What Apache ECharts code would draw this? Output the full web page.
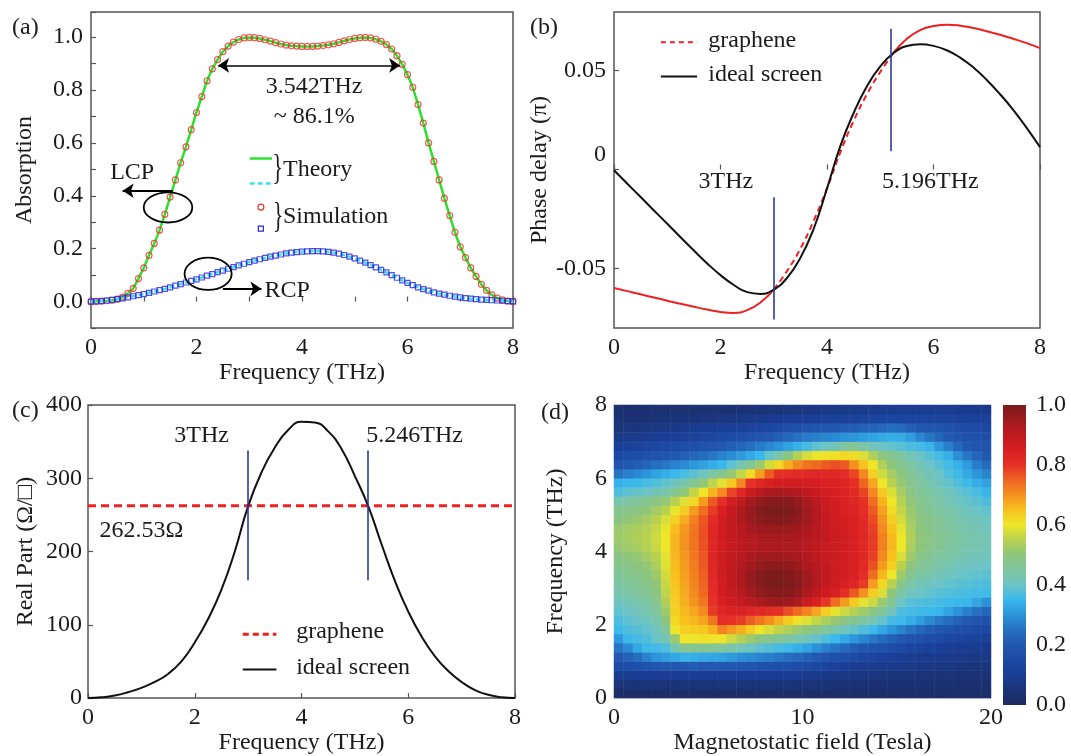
<!DOCTYPE html>
<html><head><meta charset="utf-8">
<script src="https://cdn.jsdelivr.net/npm/echarts@6/dist/echarts.min.js"></script>
<style>html,body{margin:0;padding:0;background:#fff}#c{width:1071px;height:756px}</style>
</head><body><div id="c"></div>
<script>
// ---------------- DATA ----------------
const freqA = [0,0.1,0.2,0.3,0.4,0.5,0.6,0.7,0.8,0.9,1,1.1,1.2,1.3,1.4,1.5,1.6,1.7,1.8,1.9,2,2.1,2.2,2.3,2.4,2.5,2.6,2.7,2.8,2.9,3,3.1,3.2,3.3,3.4,3.5,3.6,3.7,3.8,3.9,4,4.1,4.2,4.3,4.4,4.5,4.6,4.7,4.8,4.9,5,5.1,5.2,5.3,5.4,5.5,5.6,5.7,5.8,5.9,6,6.1,6.2,6.3,6.4,6.5,6.6,6.7,6.8,6.9,7,7.1,7.2,7.3,7.4,7.5,7.6,7.7,7.8,7.9,8];
const lcpA = [0.000,0.001,0.002,0.003,0.005,0.009,0.017,0.031,0.050,0.087,
0.127,0.175,0.220,0.270,0.330,0.395,0.460,0.525,0.585,0.650,
0.715,0.775,0.835,0.880,0.915,0.945,0.966,0.981,0.991,0.997,
0.999,0.998,0.995,0.990,0.985,0.979,0.974,0.970,0.967,0.966,
0.965,0.965,0.965,0.966,0.968,0.971,0.975,0.980,0.986,0.991,
0.995,0.998,0.999,0.997,0.992,0.984,0.972,0.955,0.930,0.897,
0.858,0.810,0.745,0.675,0.600,0.530,0.460,0.390,0.325,0.262,
0.207,0.166,0.127,0.095,0.065,0.042,0.025,0.013,0.006,0.002,0.000];
const rcpA = [0.000,0.001,0.002,0.004,0.006,0.009,0.012,0.016,0.020,0.024,
0.028,0.033,0.038,0.043,0.048,0.054,0.060,0.066,0.072,0.078,
0.084,0.091,0.098,0.104,0.111,0.117,0.124,0.130,0.137,0.143,
0.149,0.155,0.160,0.165,0.170,0.174,0.178,0.182,0.185,0.187,
0.189,0.190,0.191,0.191,0.190,0.188,0.185,0.181,0.176,0.170,
0.163,0.155,0.147,0.138,0.129,0.120,0.110,0.100,0.090,0.080,
0.071,0.062,0.054,0.047,0.041,0.035,0.030,0.026,0.022,0.019,
0.016,0.013,0.011,0.009,0.007,0.006,0.005,0.004,0.003,0.002,0.001];

const freqB = [0,0.25,0.5,0.75,1,1.25,1.5,1.75,2,2.25,2.5,2.75,3,3.25,3.5,3.75,4,4.25,4.5,4.75,5,5.25,5.5,5.75,6,6.25,6.5,6.75,7,7.25,7.5,7.75,8];
const idealB = [-0.0004,-0.0072,-0.0139,-0.0207,-0.0274,-0.0342,-0.0409,-0.0474,-0.0533,-0.0583,-0.0619,-0.0628,-0.0606,-0.0547,-0.0446,-0.0299,-0.0096,0.0118,0.0285,0.0420,0.0520,0.0588,0.0623,0.0632,0.0624,0.0602,0.0565,0.0515,0.0452,0.0380,0.0300,0.0210,0.0113];
const grapheneB = [-0.0598,-0.0614,-0.0630,-0.0646,-0.0662,-0.0678,-0.0693,-0.0707,-0.0719,-0.0724,-0.0710,-0.0671,-0.0606,-0.0512,-0.0400,-0.0258,-0.0096,0.0087,0.0245,0.0380,0.0492,0.0590,0.0660,0.0704,0.0724,0.0731,0.0726,0.0714,0.0698,0.0680,0.0660,0.0638,0.0613];
const markB = [3, 5.196];

const freqC = [0,0.25,0.5,0.75,1,1.25,1.5,1.75,2,2.25,2.5,2.75,3,3.25,3.5,3.75,4,4.25,4.5,4.75,5,5.25,5.5,5.75,6,6.25,6.5,6.75,7,7.25,7.5,7.75,8];
const idealC = [0,1,3.5,8,14,22,33,50,76,108,148,200,262,308,342,366,377,376,364,340,303,262,210,160,118,84,57,37,22,11,4.5,1.2,0];
const grapheneC = 262.53;
const markC = [3, 5.246];

const fieldCats = [0.25,0.75,1.25,1.75,2.25,2.75,3.25,3.75,4.25,4.75,5.25,5.75,6.25,6.75,7.25,7.75,8.25,8.75,9.25,9.75,10.25,10.75,11.25,11.75,12.25,12.75,13.25,13.75,14.25,14.75,15.25,15.75,16.25,16.75,17.25,17.75,18.25,18.75,19.25,19.75];
const freqCats = [0.125,0.375,0.625,0.875,1.125,1.375,1.625,1.875,2.125,2.375,2.625,2.875,3.125,3.375,3.625,3.875,4.125,4.375,4.625,4.875,5.125,5.375,5.625,5.875,6.125,6.375,6.625,6.875,7.125,7.375,7.625,7.875];
// absorption map, rows from 0.125 THz (bottom) to 7.875 THz (top), columns 0.25 T .. 19.75 T
const heatRows = [
[0.02,0.02,0.02,0.02,0.02,0.02,0.02,0.02,0.02,0.02,0.02,0.02,0.02,0.02,0.02,0.02,0.02,0.02,0.02,0.02,0.02,0.02,0.02,0.02,0.02,0.02,0.02,0.02,0.02,0.02,0.03,0.03,0.03,0.03,0.03,0.03,0.03,0.03,0.03,0.03],
[0.05,0.05,0.05,0.05,0.05,0.05,0.05,0.05,0.05,0.05,0.05,0.05,0.05,0.05,0.05,0.05,0.05,0.05,0.05,0.05,0.05,0.05,0.05,0.045,0.045,0.045,0.045,0.04,0.04,0.04,0.04,0.04,0.04,0.04,0.035,0.035,0.035,0.035,0.035,0.035],
[0.095,0.095,0.095,0.095,0.095,0.095,0.095,0.095,0.095,0.095,0.095,0.095,0.095,0.095,0.095,0.095,0.095,0.095,0.095,0.095,0.09,0.085,0.08,0.077,0.074,0.07,0.067,0.064,0.062,0.06,0.058,0.056,0.054,0.052,0.05,0.049,0.048,0.047,0.046,0.045],
[0.149,0.158,0.168,0.18,0.19,0.2,0.2,0.2,0.21,0.2,0.2,0.2,0.195,0.19,0.186,0.178,0.174,0.167,0.163,0.158,0.15,0.138,0.126,0.113,0.104,0.098,0.095,0.09,0.087,0.084,0.08,0.077,0.074,0.071,0.068,0.066,0.064,0.062,0.06,0.058],
[0.2,0.223,0.247,0.277,0.304,0.315,0.327,0.342,0.338,0.33,0.327,0.322,0.31,0.3,0.292,0.279,0.271,0.258,0.248,0.235,0.219,0.199,0.187,0.174,0.163,0.15,0.138,0.125,0.116,0.105,0.098,0.094,0.09,0.087,0.084,0.081,0.079,0.076,0.074,0.071],
[0.256,0.29,0.329,0.355,0.36,0.37,0.425,0.472,0.472,0.469,0.463,0.456,0.437,0.419,0.403,0.387,0.376,0.363,0.352,0.34,0.323,0.299,0.277,0.256,0.236,0.213,0.194,0.181,0.171,0.159,0.146,0.134,0.125,0.115,0.106,0.099,0.096,0.093,0.09,0.087],
[0.309,0.352,0.363,0.372,0.40,0.42,0.517,0.602,0.602,0.605,0.604,0.598,0.571,0.546,0.519,0.495,0.477,0.458,0.444,0.429,0.413,0.392,0.371,0.352,0.329,0.307,0.284,0.26,0.24,0.218,0.197,0.183,0.171,0.16,0.149,0.139,0.131,0.122,0.114,0.107],
[0.354,0.369,0.38,0.39,0.41,0.45,0.6,0.63,0.635,0.64,0.667,0.717,0.693,0.669,0.637,0.603,0.578,0.556,0.536,0.516,0.499,0.477,0.454,0.432,0.411,0.391,0.372,0.352,0.327,0.302,0.278,0.254,0.231,0.208,0.192,0.181,0.17,0.16,0.152,0.143],
[0.37,0.386,0.397,0.41,0.43,0.5,0.62,0.65,0.66,0.68,0.73,0.81,0.802,0.788,0.758,0.731,0.703,0.672,0.639,0.608,0.585,0.561,0.536,0.512,0.489,0.467,0.446,0.425,0.394,0.361,0.354,0.335,0.313,0.29,0.265,0.243,0.22,0.199,0.189,0.179],
[0.39,0.40,0.415,0.43,0.45,0.52,0.63,0.66,0.68,0.71,0.79,0.83,0.84,0.84,0.83,0.82,0.81,0.8,0.771,0.743,0.714,0.68,0.633,0.592,0.567,0.544,0.52,0.496,0.455,0.414,0.37,0.362,0.355,0.352,0.345,0.323,0.3,0.274,0.251,0.23],
[0.41,0.42,0.43,0.445,0.47,0.54,0.635,0.67,0.70,0.73,0.80,0.85,0.87,0.89,0.91,0.93,0.95,0.955,0.95,0.93,0.88,0.84,0.795,0.74,0.69,0.638,0.59,0.567,0.515,0.46,0.40,0.38,0.375,0.37,0.36,0.355,0.352,0.35,0.325,0.30],
[0.43,0.44,0.45,0.465,0.49,0.555,0.64,0.675,0.71,0.745,0.81,0.86,0.89,0.91,0.94,0.965,0.98,0.985,0.98,0.965,0.93,0.9,0.87,0.845,0.81,0.76,0.70,0.636,0.58,0.5,0.44,0.41,0.40,0.39,0.38,0.375,0.37,0.365,0.36,0.355],
[0.44,0.455,0.465,0.48,0.505,0.565,0.645,0.68,0.715,0.75,0.815,0.865,0.9,0.925,0.955,0.98,0.995,1.0,0.995,0.98,0.95,0.92,0.89,0.87,0.85,0.83,0.79,0.69,0.62,0.55,0.48,0.44,0.42,0.41,0.40,0.39,0.385,0.38,0.375,0.37],
[0.455,0.47,0.48,0.495,0.52,0.575,0.65,0.685,0.72,0.755,0.82,0.87,0.905,0.93,0.96,0.985,0.995,0.995,0.99,0.975,0.945,0.92,0.895,0.875,0.86,0.845,0.81,0.74,0.66,0.6,0.52,0.47,0.445,0.43,0.42,0.41,0.40,0.395,0.39,0.385],
[0.47,0.48,0.495,0.51,0.535,0.585,0.655,0.69,0.725,0.76,0.825,0.87,0.9,0.92,0.945,0.965,0.975,0.975,0.97,0.955,0.93,0.91,0.89,0.875,0.865,0.85,0.82,0.77,0.69,0.63,0.55,0.5,0.465,0.45,0.435,0.425,0.415,0.41,0.405,0.40],
[0.49,0.5,0.51,0.525,0.55,0.59,0.66,0.695,0.73,0.765,0.83,0.87,0.895,0.91,0.93,0.945,0.95,0.95,0.945,0.935,0.92,0.9,0.885,0.875,0.865,0.85,0.825,0.785,0.71,0.65,0.58,0.52,0.485,0.465,0.45,0.44,0.43,0.42,0.415,0.41],
[0.51,0.52,0.53,0.545,0.565,0.6,0.665,0.7,0.735,0.77,0.83,0.865,0.89,0.905,0.915,0.925,0.93,0.93,0.93,0.925,0.915,0.9,0.885,0.875,0.865,0.85,0.825,0.79,0.72,0.66,0.6,0.535,0.5,0.48,0.465,0.45,0.44,0.43,0.425,0.42],
[0.52,0.53,0.54,0.55,0.57,0.6,0.665,0.70,0.735,0.77,0.83,0.865,0.89,0.905,0.92,0.93,0.935,0.935,0.935,0.93,0.92,0.905,0.89,0.875,0.865,0.85,0.825,0.79,0.72,0.66,0.6,0.54,0.505,0.485,0.47,0.455,0.445,0.435,0.425,0.42],
[0.515,0.525,0.535,0.545,0.565,0.595,0.655,0.695,0.73,0.77,0.825,0.865,0.895,0.915,0.935,0.95,0.955,0.955,0.955,0.945,0.93,0.91,0.89,0.875,0.86,0.845,0.82,0.785,0.71,0.65,0.59,0.535,0.5,0.48,0.465,0.45,0.44,0.43,0.42,0.415],
[0.495,0.505,0.515,0.53,0.55,0.58,0.63,0.675,0.72,0.765,0.815,0.86,0.895,0.925,0.955,0.975,0.985,0.99,0.985,0.97,0.945,0.915,0.89,0.87,0.855,0.84,0.815,0.775,0.70,0.635,0.575,0.525,0.495,0.475,0.46,0.445,0.435,0.425,0.415,0.405],
[0.47,0.48,0.49,0.505,0.525,0.55,0.595,0.635,0.69,0.74,0.79,0.85,0.89,0.925,0.96,0.985,0.995,1.0,0.995,0.98,0.95,0.915,0.885,0.865,0.85,0.835,0.81,0.76,0.685,0.615,0.56,0.515,0.485,0.465,0.45,0.435,0.425,0.41,0.40,0.39],
[0.435,0.445,0.455,0.47,0.49,0.51,0.55,0.585,0.62,0.69,0.76,0.81,0.86,0.9,0.94,0.965,0.98,0.985,0.98,0.965,0.935,0.905,0.88,0.86,0.845,0.83,0.80,0.74,0.665,0.6,0.545,0.505,0.475,0.455,0.44,0.425,0.41,0.395,0.385,0.37],
[0.372,0.385,0.395,0.405,0.42,0.434,0.469,0.506,0.56,0.6,0.665,0.71,0.78,0.83,0.88,0.91,0.93,0.935,0.93,0.92,0.9,0.88,0.86,0.85,0.84,0.82,0.78,0.71,0.64,0.58,0.53,0.49,0.465,0.445,0.43,0.415,0.395,0.38,0.365,0.345],
[0.34,0.35,0.355,0.365,0.375,0.39,0.41,0.436,0.468,0.506,0.557,0.59,0.642,0.713,0.8,0.83,0.85,0.86,0.865,0.865,0.86,0.855,0.845,0.84,0.83,0.81,0.75,0.68,0.6,0.55,0.51,0.475,0.45,0.43,0.41,0.395,0.375,0.355,0.335,0.32],
[0.256,0.272,0.287,0.303,0.321,0.336,0.35,0.365,0.385,0.41,0.443,0.473,0.512,0.559,0.617,0.689,0.759,0.8,0.81,0.815,0.82,0.825,0.825,0.82,0.81,0.78,0.71,0.63,0.57,0.53,0.495,0.465,0.44,0.42,0.40,0.375,0.355,0.33,0.305,0.28],
[0.19,0.2,0.213,0.228,0.245,0.26,0.276,0.29,0.306,0.32,0.336,0.35,0.388,0.423,0.466,0.518,0.575,0.624,0.672,0.709,0.734,0.745,0.76,0.77,0.76,0.7,0.65,0.6,0.54,0.5,0.47,0.445,0.42,0.40,0.38,0.36,0.34,0.309,0.271,0.242],
[0.149,0.157,0.165,0.173,0.181,0.19,0.199,0.214,0.229,0.244,0.26,0.276,0.294,0.312,0.331,0.35,0.396,0.437,0.491,0.544,0.578,0.596,0.605,0.61,0.62,0.615,0.58,0.54,0.5,0.47,0.445,0.42,0.40,0.38,0.36,0.338,0.296,0.257,0.227,0.205],
[0.108,0.115,0.12,0.129,0.137,0.145,0.153,0.161,0.17,0.179,0.189,0.199,0.214,0.231,0.248,0.266,0.285,0.303,0.323,0.341,0.363,0.388,0.404,0.421,0.449,0.459,0.44,0.415,0.40,0.39,0.38,0.37,0.36,0.345,0.307,0.27,0.235,0.205,0.19,0.183],
[0.08,0.085,0.09,0.095,0.098,0.1,0.106,0.114,0.122,0.13,0.139,0.148,0.157,0.167,0.177,0.189,0.2,0.216,0.234,0.252,0.266,0.275,0.282,0.29,0.3,0.307,0.315,0.322,0.33,0.337,0.332,0.314,0.284,0.256,0.23,0.202,0.19,0.18,0.172,0.165],
[0.06,0.062,0.065,0.068,0.071,0.075,0.08,0.085,0.09,0.095,0.098,0.1,0.105,0.114,0.123,0.132,0.142,0.152,0.163,0.174,0.184,0.19,0.195,0.2,0.206,0.213,0.22,0.228,0.235,0.243,0.235,0.214,0.196,0.192,0.185,0.175,0.165,0.155,0.148,0.14],
[0.045,0.046,0.047,0.048,0.05,0.052,0.054,0.056,0.058,0.061,0.064,0.067,0.07,0.074,0.078,0.082,0.087,0.092,0.096,0.099,0.102,0.105,0.108,0.112,0.116,0.12,0.124,0.128,0.132,0.136,0.135,0.132,0.13,0.128,0.126,0.123,0.12,0.117,0.114,0.11],
[0.035,0.035,0.036,0.036,0.037,0.037,0.038,0.039,0.04,0.041,0.042,0.044,0.046,0.048,0.05,0.052,0.055,0.058,0.061,0.064,0.067,0.07,0.073,0.076,0.079,0.082,0.085,0.088,0.09,0.092,0.094,0.095,0.095,0.095,0.094,0.093,0.092,0.09,0.088,0.086]
];
const cmap = ['#1c2a5f','#1b3377','#1a3e95','#1c4aa5','#2258b0','#2670c0','#2b92d8','#3ab8ec','#6cc4c6','#80c59e','#8dc57c','#b8d250','#efe62a','#f7c21e','#f4921f','#ee6522','#e63027','#d81f22','#c01a1f','#9e1a1e','#7a1b1c'];

// ---------------- STYLE ----------------
const FF = '"Liberation Serif","Times New Roman",serif';
const FS = 24;
const TXT = '#1b1b1b';
const AX = '#555555';
const G = [
  {left:91, top:12, width:422, height:316},
  {left:614, top:12, width:426, height:316},
  {left:88, top:405, width:427, height:300},
  {left:614, top:405, width:377, height:300},
  {left:1003, top:405, width:23, height:300}
];

const zip = (xs, ys) => xs.map((x, i) => [x, ys[i]]);
const lbl = (extra) => Object.assign({color:TXT, fontFamily:FF, fontSize:FS, margin:8}, extra || {});
const tick = (extra) => Object.assign({show:true, inside:true, length:5, lineStyle:{color:AX, width:1.2}}, extra || {});
const nameStyle = {color:TXT, fontFamily:FF, fontSize:FS};

const xAxes = [
  {gridIndex:0, type:'value', min:0, max:8, interval:1, axisLine:{show:false}, splitLine:{show:false},
   axisTick:tick(), axisLabel:lbl({formatter:v => (Math.round(v) % 2 === 0 ? String(Math.round(v)) : '')}),
   name:'Frequency (THz)', nameLocation:'middle', nameGap:28, nameTextStyle:nameStyle},
  {gridIndex:1, type:'value', min:0, max:8, interval:2, axisLine:{show:false}, splitLine:{show:false},
   axisTick:tick(), axisLabel:lbl(),
   name:'Frequency (THz)', nameLocation:'middle', nameGap:28, nameTextStyle:nameStyle},
  {gridIndex:2, type:'value', min:0, max:8, interval:2, axisLine:{show:false}, splitLine:{show:false},
   axisTick:tick(), axisLabel:lbl(),
   name:'Frequency (THz)', nameLocation:'middle', nameGap:26, nameTextStyle:nameStyle},
  {gridIndex:3, type:'category', data:fieldCats, show:false, position:'top'},
  {gridIndex:3, type:'value', min:0, max:20, interval:10, position:'bottom', axisLine:{show:false}, axisTick:{show:false}, splitLine:{show:false},
   axisLabel:lbl(), name:'Magnetostatic field (Tesla)', nameLocation:'middle', nameGap:26, nameTextStyle:nameStyle},
  {gridIndex:4, type:'value', min:0, max:1, show:false}
];
const yAxes = [
  {gridIndex:0, type:'value', min:-0.1, max:1.095, interval:0.1, axisLine:{show:false}, splitLine:{show:false},
   axisTick:tick(), axisLabel:lbl({formatter:v => { const k = Math.round(v*10); return (k >= 0 && k % 2 === 0) ? (k/10).toFixed(1) : ''; }}),
   name:'Absorption', nameLocation:'middle', nameGap:54, nameTextStyle:nameStyle},
  {gridIndex:1, type:'value', min:-0.08, max:0.0795, axisLine:{show:false}, splitLine:{show:false},
   axisTick:tick({customValues:[-0.05,0,0.05]}),
   axisLabel:lbl({customValues:[-0.05,0,0.05],
     formatter:v => (Math.abs(v) < 1e-9 ? '{z|0}' : v.toFixed(2)),
     rich:{z:{fontFamily:FF, fontSize:FS, color:TXT, padding:[0,0,30,0]}}}),
   name:'Phase delay (\u03c0)', nameLocation:'middle', nameGap:46, nameTextStyle:nameStyle},
  {gridIndex:2, type:'value', min:0, max:400, interval:100, axisLine:{show:false}, splitLine:{show:false},
   axisTick:tick(), axisLabel:lbl({margin:6}),
   name:'Real Part (\u03a9/\u25a1)', nameLocation:'middle', nameGap:50, nameTextStyle:nameStyle},
  {gridIndex:3, type:'category', data:freqCats, show:false, position:'right'},
  {gridIndex:3, type:'value', min:0, max:8, interval:2, position:'left', axisLine:{show:false}, axisTick:{show:false}, splitLine:{show:false},
   axisLabel:lbl({margin:7}), name:'Frequency (THz)', nameLocation:'middle', nameGap:46, nameTextStyle:nameStyle},
  {gridIndex:4, type:'value', min:0, max:1, interval:0.2, position:'right', axisLine:{show:false}, axisTick:{show:false}, splitLine:{show:false},
   axisLabel:lbl({margin:10, formatter:v => v.toFixed(1)})}
];

const heatData = [];
heatRows.forEach((row, j) => row.forEach((v, i) => heatData.push([i, j, v])));

const blue = '#2b3a9c';
const series = [
  {type:'line', name:'LCP theory', xAxisIndex:0, yAxisIndex:0, data:zip(freqA, lcpA), symbol:'none',
   lineStyle:{color:'#2ee02e', width:2.5}, z:3,
   markLine:{silent:true, symbol:['arrow','arrow'], symbolSize:11, label:{show:false},
     lineStyle:{color:'#000', width:1.6, type:'solid'},
     data:[[{coord:[2.41,0.893]},{coord:[5.86,0.893]}]]}},
  {type:'line', name:'RCP theory', xAxisIndex:0, yAxisIndex:0, data:zip(freqA, rcpA), symbol:'none',
   lineStyle:{color:'#3de0f0', width:2.5, type:[5,3]}, z:3,
   markLine:{silent:true, symbol:['none','arrow'], symbolSize:11, label:{show:false},
     lineStyle:{color:'#000', width:2, type:'solid'},
     data:[[{coord:[1.55,0.419]},{coord:[0.60,0.419]}], [{coord:[2.5,0.048]},{coord:[3.23,0.048]}]]}},
  {type:'scatter', name:'LCP simulation', xAxisIndex:0, yAxisIndex:0, data:zip(freqA, lcpA), symbol:'circle', symbolSize:6,
   itemStyle:{color:'rgba(0,0,0,0)', borderColor:'#e8342e', borderWidth:1.2}, z:4},
  {type:'scatter', name:'RCP simulation', xAxisIndex:0, yAxisIndex:0, data:zip(freqA, rcpA), symbol:'rect', symbolSize:5,
   itemStyle:{color:'rgba(0,0,0,0)', borderColor:'#2626e0', borderWidth:1.2}, z:4},

  {type:'line', name:'ideal screen', xAxisIndex:1, yAxisIndex:1, data:zip(freqB, idealB), symbol:'none', smooth:0.5,
   lineStyle:{color:'#111', width:2}, z:3,
   markLine:{silent:true, symbol:'none', label:{show:false}, lineStyle:{color:blue, width:1.6, type:'solid'},
     data:[[{coord:[markB[0],-0.014]},{coord:[markB[0],-0.0757]}], [{coord:[markB[1],0.071]},{coord:[markB[1],0.0092]}]]}},
  {type:'line', name:'graphene', xAxisIndex:1, yAxisIndex:1, data:zip(freqB, grapheneB).slice(0,13), symbol:'none', smooth:0.5,
   lineStyle:{color:'#ee2020', width:2}, z:2},
  {type:'line', name:'graphene', xAxisIndex:1, yAxisIndex:1, data:zip(freqB, grapheneB).slice(12,22), symbol:'none', smooth:0.5,
   lineStyle:{color:'#ee2020', width:2, type:[6,4]}, z:2},
  {type:'line', name:'graphene', xAxisIndex:1, yAxisIndex:1, data:zip(freqB, grapheneB).slice(21), symbol:'none', smooth:0.5,
   lineStyle:{color:'#ee2020', width:2}, z:2},

  {type:'line', name:'graphene', xAxisIndex:2, yAxisIndex:2, data:[[0,grapheneC],[8,grapheneC]], symbol:'none',
   lineStyle:{color:'#ee2020', width:3, type:[8,5]}, z:2},
  {type:'line', name:'ideal screen', xAxisIndex:2, yAxisIndex:2, data:zip(freqC, idealC), symbol:'none', smooth:0.5,
   lineStyle:{color:'#111', width:2}, z:3,
   markLine:{silent:true, symbol:'none', label:{show:false}, lineStyle:{color:blue, width:1.6, type:'solid'},
     data:[[{coord:[markC[0],161]},{coord:[markC[0],338]}], [{coord:[markC[1],161]},{coord:[markC[1],338]}]]}},

  {type:'heatmap', xAxisIndex:3, yAxisIndex:3, data:heatData, itemStyle:{borderWidth:0}, emphasis:{disabled:true}, progressive:0},
  {type:'line', xAxisIndex:4, yAxisIndex:4, data:[], silent:true},
  {type:'line', xAxisIndex:5, yAxisIndex:5, data:[], silent:true}
];

const option = {
  animation:false,
  backgroundColor:'#ffffff',
  grid: G.map((g, i) => Object.assign({show: i < 3, borderColor:AX, borderWidth:1.5, backgroundColor:'transparent', containLabel:false}, g)),
  xAxis: xAxes,
  yAxis: yAxes,
  visualMap: {show:false, type:'continuous', min:0, max:1, seriesIndex:10, inRange:{color:cmap}},
  series: series
};

const chart = echarts.init(document.getElementById('c'));
chart.setOption(option);

// ---------------- ANNOTATIONS ----------------
const P = (g, x, y) => chart.convertToPixel({gridIndex:g}, [x, y]);
const txt = (g, x, y, s, align, extra) => {
  const p = P(g, x, y);
  return Object.assign({type:'text', x:p[0], y:p[1], z:50,
    style:{text:s, fill:TXT, fontFamily:FF, fontSize:FS, align:align || 'center', verticalAlign:'middle'}}, extra || {});
};
const seg = (g, x1, y1, x2, y2, color, w, dash) => {
  const a = P(g, x1, y1), b = P(g, x2, y2);
  return {type:'line', z:50, shape:{x1:a[0], y1:a[1], x2:b[0], y2:b[1]}, style:{stroke:color, lineWidth:w, lineDash:dash || null}};
};
const ell = (g, cx, cy, rx, ry) => {
  const c = P(g, cx, cy), e = P(g, cx + rx, cy + ry);
  return {type:'ellipse', z:50, shape:{cx:c[0], cy:c[1], rx:Math.abs(e[0]-c[0]), ry:Math.abs(e[1]-c[1])}, style:{fill:'none', stroke:'#000', lineWidth:1.8}};
};
const brace = (g, x, y) => {
  const p = P(g, x, y);
  return {type:'text', x:p[0], y:p[1], z:50, scaleY:1.45, scaleX:0.9,
    style:{text:'}', fill:TXT, fontFamily:FF, fontSize:24, align:'center', verticalAlign:'middle'}};
};
const c1 = P(0, 3.22, 0.357), s1 = P(0, 3.22, 0.276);
const cbRect = G[4];
const graphic = [
  {type:'text', x:12, y:28, style:{text:'(a)', fill:TXT, fontFamily:FF, fontSize:FS, align:'left', verticalAlign:'middle'}},
  {type:'text', x:530, y:28, style:{text:'(b)', fill:TXT, fontFamily:FF, fontSize:FS, align:'left', verticalAlign:'middle'}},
  {type:'text', x:12, y:411, style:{text:'(c)', fill:TXT, fontFamily:FF, fontSize:FS, align:'left', verticalAlign:'middle'}},
  {type:'text', x:541, y:413, style:{text:'(d)', fill:TXT, fontFamily:FF, fontSize:FS, align:'left', verticalAlign:'middle'}},
  // (a)
  txt(0, 4.23, 0.813, '3.542THz'),
  txt(0, 4.23, 0.699, '~ 86.1%'),
  txt(0, 0.78, 0.489, 'LCP'),
  txt(0, 3.72, 0.041, 'RCP'),
  ell(0, 1.46, 0.356, 0.46, 0.057),
  ell(0, 2.22, 0.105, 0.447, 0.061),
  seg(0, 3.01, 0.541, 3.43, 0.541, '#2ee02e', 2.5),
  seg(0, 3.01, 0.446, 3.43, 0.446, '#3de0f0', 2.5, [5,3]),
  brace(0, 3.54, 0.497),
  txt(0, 3.64, 0.497, 'Theory', 'left'),
  {type:'circle', z:50, shape:{cx:c1[0], cy:c1[1], r:3}, style:{fill:'none', stroke:'#e8342e', lineWidth:1.2}},
  {type:'rect', z:50, shape:{x:s1[0]-2.5, y:s1[1]-2.5, width:5, height:5}, style:{fill:'none', stroke:'#2626e0', lineWidth:1.2}},
  brace(0, 3.55, 0.317),
  txt(0, 3.64, 0.320, 'Simulation', 'left'),
  // (b)
  txt(1, 2.1, -0.0063, '3THz'),
  txt(1, 5.94, -0.0063, '5.196THz'),
  seg(1, 0.88, 0.0642, 1.56, 0.0642, '#ee2020', 2, [5,4]),
  txt(1, 1.77, 0.0650, 'graphene', 'left'),
  seg(1, 0.88, 0.047, 1.56, 0.047, '#111', 2),
  txt(1, 1.77, 0.0478, 'ideal screen', 'left'),
  // (c)
  txt(2, 2.13, 357.5, '3THz'),
  txt(2, 6.12, 357.5, '5.246THz'),
  txt(2, 1.0, 228, '262.53\u03a9'),
  seg(2, 2.9, 87, 3.53, 87, '#ee2020', 3, [6,4]),
  txt(2, 3.9, 90, 'graphene', 'left'),
  seg(2, 2.9, 39, 3.53, 39, '#111', 2),
  txt(2, 3.9, 42, 'ideal screen', 'left'),
  // colorbar
  {type:'rect', z:5, shape:{x:cbRect.left, y:cbRect.top, width:cbRect.width, height:cbRect.height},
   style:{fill:new echarts.graphic.LinearGradient(0, 1, 0, 0, cmap.map((c, i) => ({offset:i/(cmap.length-1), color:c})))}}
];
chart.setOption({graphic: graphic});
</script>
</body></html>
